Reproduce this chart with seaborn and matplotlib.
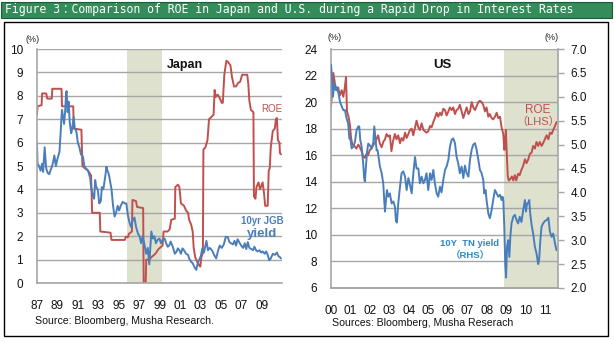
import matplotlib
matplotlib.use("Agg")
import matplotlib.pyplot as plt
import seaborn as sns
import pandas as pd
from matplotlib.patches import Rectangle

# ---------------- data ----------------
jp_roe_t = [1987.0, 1987.05, 1987.45, 1987.5, 1987.9, 1988.0, 1988.45, 1988.5, 1989.4, 1989.45,
            1990.55, 1990.6, 1991.35, 1991.45, 1991.7, 1992.0, 1992.3, 1992.4, 1993.15, 1993.2,
            1994.2, 1994.3, 1995.6, 1995.7, 1995.9, 1996.0, 1996.3, 1996.35, 1996.7, 1996.8,
            1997.4, 1997.45, 1997.65, 1997.7, 1998.0, 1998.2, 1998.6, 1998.9, 1999.3, 1999.4,
            1999.8, 2000.0, 2000.15, 2000.5, 2000.55, 2000.8, 2000.95, 2001.1, 2001.4, 2001.6,
            2001.8, 2001.9, 2002.1, 2002.25, 2002.35, 2002.5, 2002.7, 2002.9, 2003.0, 2003.1,
            2003.25, 2003.3, 2003.5, 2003.7, 2003.85, 2004.1, 2004.3, 2004.4, 2004.5, 2004.7,
            2004.9, 2005.1, 2005.2, 2005.35, 2005.55, 2005.7, 2005.95, 2006.1, 2006.3, 2006.5,
            2006.7, 2006.9, 2007.1, 2007.6, 2007.7, 2007.8, 2007.95, 2008.2, 2008.25, 2008.4,
            2008.5, 2008.7, 2008.85, 2009.1, 2009.25, 2009.35, 2009.6, 2009.7, 2009.8, 2009.9,
            2010.1, 2010.3, 2010.4, 2010.5, 2010.6, 2010.75, 2010.8, 2010.9]
jp_roe_v = [7.2, 7.55, 7.6, 8.1, 8.1, 7.88, 7.88, 8.3, 8.3, 7.55,
            7.55, 6.6, 6.55, 5.0, 4.9, 4.8, 4.6, 3.0, 3.0, 2.2,
            2.15, 1.84, 1.84, 1.98, 1.95, 2.1, 2.2, 3.55, 3.5, 3.25,
            3.2, 0.0, 0.0, 1.0, 1.0, 1.1, 1.25, 1.45, 1.6, 2.2,
            2.2, 2.3, 2.7, 2.75, 4.1, 4.2, 4.1, 3.4, 3.3, 3.1,
            3.0, 2.7, 2.5, 2.2, 1.5, 1.1, 0.9, 0.75, 0.7, 1.1,
            1.3, 5.7, 5.8, 6.1, 7.0, 7.1, 7.2, 8.25, 7.95, 8.05,
            7.9, 7.7, 7.7, 8.9, 9.5, 9.45, 9.3, 8.8, 8.4, 8.4,
            8.55, 8.6, 8.9, 8.9, 8.5, 7.8, 7.4, 7.3, 3.7, 3.6,
            4.1, 4.3, 4.0, 4.3, 3.8, 3.3, 3.3, 4.8, 4.9, 5.8,
            6.5, 6.6, 7.0, 7.05, 6.1, 6.0, 5.55, 5.5]

jp_jgb_t = [1987.0, 1987.05, 1987.2, 1987.35, 1987.5, 1987.6, 1987.75, 1987.9, 1988.05, 1988.2,
            1988.4, 1988.55, 1988.7, 1988.85, 1989.0, 1989.2, 1989.3, 1989.4, 1989.45, 1989.55,
            1989.65, 1989.75, 1989.85, 1989.9, 1990.0, 1990.1, 1990.2, 1990.35, 1990.45, 1990.6,
            1990.7, 1990.85, 1991.0, 1991.15, 1991.3, 1991.5, 1991.65, 1991.8, 1992.0, 1992.2,
            1992.3, 1992.5, 1992.6, 1992.7, 1992.8, 1992.95, 1993.1, 1993.25, 1993.35, 1993.5,
            1993.7, 1993.8, 1993.9, 1994.0, 1994.1, 1994.3, 1994.45, 1994.6, 1994.75, 1994.9,
            1995.05, 1995.2, 1995.4, 1995.6, 1995.75, 1995.9, 1996.05, 1996.2, 1996.4, 1996.55,
            1996.7, 1996.9, 1997.05, 1997.2, 1997.35, 1997.5, 1997.7, 1997.85, 1998.0, 1998.2,
            1998.35, 1998.5, 1998.65, 1998.8, 1999.0, 1999.15, 1999.3, 1999.5, 1999.65, 1999.8,
            1999.95, 2000.1, 2000.3, 2000.5, 2000.65, 2000.8, 2000.95, 2001.1, 2001.25, 2001.4,
            2001.6, 2001.8, 2001.9, 2002.1, 2002.25, 2002.4, 2002.6, 2002.75, 2002.9, 2003.05,
            2003.2, 2003.35, 2003.6, 2003.75, 2003.9, 2004.05, 2004.2, 2004.35, 2004.55, 2004.75,
            2004.9, 2005.1, 2005.3, 2005.5, 2005.7, 2005.85, 2006.0, 2006.2, 2006.35, 2006.5,
            2006.65, 2006.8, 2007.0, 2007.2, 2007.35, 2007.5, 2007.65, 2007.8, 2008.0, 2008.15,
            2008.3, 2008.45, 2008.6, 2008.8, 2008.95, 2009.1, 2009.3, 2009.45, 2009.6, 2009.75,
            2009.9, 2010.1, 2010.3, 2010.5, 2010.65, 2010.8, 2010.9]
jp_jgb_v = [6.0, 5.1, 5.0, 4.8, 5.1, 4.75, 5.8, 4.9, 4.7, 4.65,
            4.9, 5.1, 5.45, 5.0, 5.3, 5.6, 6.3, 7.1, 7.4, 7.1,
            6.8, 7.3, 8.1, 8.2, 7.3, 7.75, 6.9, 6.4, 6.6, 7.1,
            6.6, 6.5, 6.0, 5.8, 5.5, 5.4, 4.97, 4.9, 4.8, 4.5,
            4.1, 3.7, 3.6, 4.4, 4.1, 4.0, 3.4, 3.5, 4.1, 4.0,
            4.6, 4.97, 4.8, 4.7, 4.5, 4.0, 3.3, 2.84, 3.0, 3.3,
            3.1, 3.3, 3.47, 3.4, 3.4, 2.9, 2.6, 2.4, 2.7, 2.8,
            2.4, 2.1, 2.0, 1.7, 2.0, 1.7, 1.25, 1.5, 0.8, 2.2,
            1.9, 2.0, 1.7, 1.84, 1.9, 1.7, 1.84, 1.9, 1.7, 1.55,
            1.6, 1.77, 1.55, 1.25, 1.33, 1.48, 1.4, 1.25, 1.48, 1.4,
            1.25, 1.2, 1.05, 0.9, 0.85, 0.7, 0.56, 0.85, 1.0, 1.15,
            1.48, 1.3, 1.8, 1.4, 1.5, 1.45, 1.35, 1.2, 1.05, 1.4,
            1.6, 1.5, 1.65, 1.98, 1.95, 1.75, 1.7, 1.65, 1.8, 1.6,
            1.87, 1.75, 1.6, 1.5, 1.7, 1.45, 1.75, 1.5, 1.45, 1.4,
            1.55, 1.4, 1.35, 1.4, 1.3, 1.35, 1.25, 1.35, 1.2, 0.97,
            1.05, 1.25, 1.2, 1.3, 1.15, 1.1, 1.05]

us_roe_t = [2000.0, 2000.05, 2000.12, 2000.2, 2000.28, 2000.37, 2000.45, 2000.55, 2000.63, 2000.7,
            2000.77, 2000.82, 2000.9, 2000.97, 2001.03, 2001.1, 2001.2, 2001.3, 2001.4, 2001.48,
            2001.57, 2001.65, 2001.74, 2001.82, 2001.9, 2001.99, 2002.08, 2002.17, 2002.25, 2002.33,
            2002.42, 2002.5, 2002.6, 2002.68, 2002.77, 2002.85, 2002.94, 2003.02, 2003.1, 2003.19,
            2003.28, 2003.36, 2003.45, 2003.54, 2003.62, 2003.71, 2003.8, 2003.88, 2003.97, 2004.05,
            2004.14, 2004.22, 2004.31, 2004.39, 2004.48, 2004.56, 2004.65, 2004.74, 2004.82, 2004.9,
            2004.99, 2005.08, 2005.16, 2005.25, 2005.33, 2005.42, 2005.5, 2005.59, 2005.67, 2005.76,
            2005.85, 2005.93, 2006.02, 2006.1, 2006.19, 2006.27, 2006.36, 2006.44, 2006.53, 2006.61,
            2006.7, 2006.79, 2006.87, 2006.96, 2007.05, 2007.13, 2007.22, 2007.3, 2007.39, 2007.47,
            2007.56, 2007.64, 2007.73, 2007.81, 2007.9, 2007.98, 2008.07, 2008.15, 2008.24, 2008.32,
            2008.41, 2008.5, 2008.58, 2008.67, 2008.75, 2008.84, 2008.89, 2008.93, 2008.97, 2009.02,
            2009.07, 2009.12, 2009.2, 2009.28, 2009.35, 2009.43, 2009.5, 2009.6, 2009.68, 2009.77,
            2009.86, 2009.95, 2010.03, 2010.12, 2010.2, 2010.29, 2010.37, 2010.46, 2010.54, 2010.63,
            2010.71, 2010.8, 2010.88, 2010.97, 2011.06, 2011.15, 2011.23, 2011.32, 2011.4, 2011.49,
            2011.57]
us_roe_v = [19.7, 20.6, 22.2, 21.4, 20.9, 21.1, 20.5, 20.9, 20.4, 21.0,
            21.9, 19.3, 18.9, 18.3, 17.3, 16.8, 16.7, 16.5, 16.8, 16.6,
            16.3, 15.9, 15.8, 16.1, 16.0, 16.4, 16.5, 16.8, 16.9, 17.2,
            17.5, 16.9, 16.6, 17.0, 17.2, 17.6, 17.4, 17.5, 16.3, 17.1,
            17.6, 17.2, 17.5, 16.9, 17.3, 17.1, 17.7, 17.3, 17.6, 17.9,
            18.0, 17.5, 18.1, 18.6, 18.1, 17.9, 18.4, 17.9, 17.8, 17.7,
            17.8, 18.2, 18.1, 18.5, 18.8, 19.2, 18.9, 19.2, 19.0, 19.5,
            19.4, 19.0, 19.3, 19.6, 19.4, 19.6, 19.1, 19.4, 19.5, 19.8,
            19.3, 18.8, 19.2, 19.6, 19.1, 19.3, 20.0, 19.6, 19.4, 19.7,
            20.0, 20.1, 20.0, 19.8, 19.3, 19.6, 18.9, 19.1, 18.8, 18.7,
            18.9, 19.2, 18.8, 18.9, 18.1, 17.6, 16.4, 16.9, 17.9, 16.0,
            14.4, 14.1, 14.2, 14.4, 14.1, 14.5, 14.1, 14.6, 14.5, 14.9,
            15.2, 15.7, 15.4, 15.7, 16.1, 16.2, 16.7, 16.5, 17.0, 16.7,
            17.0, 16.7, 16.9, 17.2, 17.5, 17.2, 17.7, 17.6, 17.9, 18.2,
            18.5]

us_tn_t = [2000.0, 2000.05, 2000.1, 2000.17, 2000.25, 2000.32, 2000.4, 2000.46, 2000.55, 2000.63,
           2000.72, 2000.77, 2000.82, 2000.88, 2000.94, 2001.0, 2001.06, 2001.15, 2001.23, 2001.31,
           2001.4, 2001.45, 2001.5, 2001.57, 2001.65, 2001.7, 2001.74, 2001.79, 2001.85, 2001.91,
           2002.0, 2002.08, 2002.17, 2002.22, 2002.29, 2002.34, 2002.39, 2002.42, 2002.51, 2002.6,
           2002.68, 2002.73, 2002.77, 2002.82, 2002.87, 2002.94, 2003.02, 2003.11, 2003.2, 2003.28,
           2003.33, 2003.38, 2003.45, 2003.54, 2003.62, 2003.71, 2003.8, 2003.88, 2003.97, 2004.05,
           2004.14, 2004.22, 2004.31, 2004.39, 2004.48, 2004.56, 2004.65, 2004.74, 2004.82, 2004.9,
           2004.99, 2005.08, 2005.16, 2005.25, 2005.33, 2005.42, 2005.5, 2005.59, 2005.67, 2005.76,
           2005.85, 2005.93, 2006.02, 2006.1, 2006.19, 2006.27, 2006.36, 2006.44, 2006.53, 2006.61,
           2006.7, 2006.79, 2006.87, 2006.96, 2007.05, 2007.13, 2007.22, 2007.3, 2007.39, 2007.47,
           2007.56, 2007.64, 2007.73, 2007.81, 2007.86, 2007.93, 2007.98, 2008.07, 2008.15, 2008.24,
           2008.32, 2008.41, 2008.5, 2008.58, 2008.67, 2008.75, 2008.8, 2008.84, 2008.89, 2008.94,
           2008.98, 2009.03, 2009.09, 2009.15, 2009.2, 2009.26, 2009.35, 2009.43, 2009.52, 2009.6,
           2009.68, 2009.77, 2009.86, 2009.95, 2010.0, 2010.06, 2010.12, 2010.17, 2010.22, 2010.29,
           2010.37, 2010.46, 2010.54, 2010.63, 2010.68, 2010.74, 2010.8, 2010.88, 2010.97, 2011.06,
           2011.15, 2011.23, 2011.32, 2011.4, 2011.49, 2011.57]
us_tn_v = [6.67, 6.42, 6.0, 6.28, 6.14, 6.2, 6.04, 5.9, 5.8, 5.72,
           5.72, 5.6, 5.52, 5.45, 5.13, 5.1, 4.92, 4.96, 5.06, 5.3,
           5.38, 5.38, 5.1, 4.96, 4.61, 4.3, 4.23, 4.53, 4.85, 5.02,
           4.98, 4.92, 5.04, 5.38, 5.08, 4.88, 4.88, 4.8, 4.54, 4.4,
           4.19, 3.84, 3.6, 3.84, 4.05, 3.91, 3.98, 3.77, 3.81, 3.7,
           3.4, 3.37, 3.77, 4.12, 4.4, 4.44, 4.33, 4.05, 4.3, 4.16,
           3.98, 4.38, 4.74, 4.5, 4.5, 4.19, 4.33, 4.19, 4.26, 4.4,
           4.05, 4.4, 4.26, 4.47, 4.19, 3.98, 3.91, 4.12, 4.0, 4.26,
           4.47, 4.54, 4.68, 4.95, 5.1, 5.13, 5.03, 4.75, 4.6, 4.4,
           4.54, 4.3, 4.56, 4.4, 4.33, 4.68, 4.9, 5.0, 5.03, 4.89,
           4.68, 4.47, 4.4, 4.26, 3.98, 4.05, 3.84, 3.56, 3.46, 3.63,
           3.84, 4.05, 3.98, 3.91, 3.95, 3.84, 3.91, 3.84, 3.28, 2.5,
           2.22, 2.86, 3.0, 2.65, 3.07, 3.35, 3.49, 3.53, 3.42, 3.35,
           3.49, 3.38, 3.63, 3.84, 3.6, 3.77, 3.77, 3.84, 3.56, 3.32,
           3.14, 2.86, 2.73, 2.5, 2.6, 3.0, 3.28, 3.35, 3.4, 3.42,
           3.47, 3.18, 3.07, 3.14, 2.93, 2.79]

jp_tick_labels = ["87", "89", "91", "93", "95", "97", "99", "01", "03", "05", "07", "09"]
us_tick_labels = ["00", "01", "02", "03", "04", "05", "06", "07", "08", "09", "10", "11"]

# ---------------- style ----------------
sns.set_style("white")
plt.rcParams["font.family"] = ["Liberation Sans", "Noto Sans CJK JP", "DejaVu Sans"]

RED = "#C0504D"
BLUE = "#4A7EBB"
SHADE = "#DDE1CE"
GRID = "#A6A6A6"
AXC = "#A6A6A6"

fig = plt.figure(figsize=(6.14, 3.41), dpi=100)
W, H = 614.0, 341.0

def fx(x):
    return x / W

def fy(y):
    return 1 - y / H

# frame and title bar
fig.add_artist(Rectangle((fx(1), fy(18)), fx(611), 16 / H, transform=fig.transFigure,
                         facecolor="#338C5A", edgecolor="#1E5A38", lw=0.8))
fig.add_artist(Rectangle((fx(4), fy(336)), fx(604), 314 / H, transform=fig.transFigure,
                         facecolor="none", edgecolor="black", lw=1.0))
fig.text(fx(5), fy(10), "Figure 3：Comparison of ROE in Japan and U.S. during a Rapid Drop in Interest Rates",
         color="white", fontsize=8.3, va="center", ha="left",
         family=["DejaVu Sans Mono", "Noto Sans CJK JP"])

# ---------------- Japan ----------------
axj = fig.add_axes([fx(37), fy(283), fx(282 - 37), (283 - 49) / H])
axj.axvspan(1995.8, 1999.25, color=SHADE, zorder=0.1, lw=0)
df_jr = pd.DataFrame({"t": jp_roe_t, "v": jp_roe_v})
df_jb = pd.DataFrame({"t": jp_jgb_t, "v": jp_jgb_v})
sns.lineplot(data=df_jr, x="t", y="v", ax=axj, color=RED, lw=1.4, estimator=None, sort=False)
sns.lineplot(data=df_jb, x="t", y="v", ax=axj, color=BLUE, lw=1.4, estimator=None, sort=False)
axj.set_xlim(1987, 2011)
axj.set_ylim(0, 10)
axj.set_yticks(range(0, 11))
axj.set_xticks(range(1987, 2011, 2))
axj.set_xticklabels(jp_tick_labels)
axj.set_xticks(range(1987, 2012), minor=True)
axj.set_axisbelow(True)
axj.grid(axis="y", color=GRID, lw=1.0)
axj.grid(axis="x", visible=False)

# ---------------- US ----------------
axu = fig.add_axes([fx(331), fy(288), fx(557.7 - 331), (288 - 49) / H])
axu.axvspan(2008.87, 2011.7, color=SHADE, zorder=0.1, lw=0)
df_ur = pd.DataFrame({"t": us_roe_t, "v": us_roe_v})
sns.lineplot(data=df_ur, x="t", y="v", ax=axu, color=RED, lw=1.4, estimator=None, sort=False)
axu.set_xlim(2000, 2011.63)
axu.set_ylim(6, 24)
axu.set_yticks(range(6, 25, 2))
axu.set_xticks(range(2000, 2012))
axu.set_xticklabels(us_tick_labels)
axu.set_axisbelow(True)
axu.grid(axis="y", color=GRID, lw=1.0)
axu.grid(axis="x", visible=False)

axr = axu.twinx()
df_ut = pd.DataFrame({"t": us_tn_t, "v": us_tn_v})
sns.lineplot(data=df_ut, x="t", y="v", ax=axr, color=BLUE, lw=1.4, estimator=None, sort=False)
axr.set_ylim(2.0, 7.0)
axr.set_yticks([2.0, 2.5, 3.0, 3.5, 4.0, 4.5, 5.0, 5.5, 6.0, 6.5, 7.0])
axr.set_yticklabels(["%.1f" % v for v in axr.get_yticks()])
axr.grid(False)

for ax in (axj, axu, axr):
    ax.set_xlabel("")
    ax.set_ylabel("")
    ax.spines["top"].set_visible(False)
    for s in ("left", "bottom", "right"):
        ax.spines[s].set_color(AXC)
        ax.spines[s].set_linewidth(1.2)

axj.spines["right"].set_visible(False)
axu.spines["right"].set_visible(False)
axr.spines["left"].set_visible(False)

for ax in (axj, axu):
    ax.tick_params(axis="x", which="both", direction="out", length=3, width=1, color=AXC,
                   labelsize=8.5, pad=9, labelcolor="#111111")
    ax.tick_params(axis="y", direction="out", length=0, labelsize=8.5, pad=10, labelcolor="#111111")
axr.tick_params(axis="y", direction="out", length=4, width=1, color=AXC, labelsize=8.5, pad=5,
                labelcolor="#111111")

# annotations
fig.text(fx(33), fy(40), "(%)", fontsize=6.5, ha="center", va="center", color="#222222")
fig.text(fx(335), fy(38), "(%)", fontsize=6.5, ha="center", va="center", color="#222222")
fig.text(fx(552), fy(38), "(%)", fontsize=6.5, ha="center", va="center", color="#222222")

fig.text(fx(185), fy(65), "Japan", fontsize=9, fontweight="bold", ha="center", va="center", color="#111111")
fig.text(fx(442), fy(65), "US", fontsize=9.5, fontweight="bold", ha="center", va="center", color="#111111")

fig.text(fx(272), fy(109), "ROE", fontsize=7, ha="center", va="center", color=RED)
fig.text(fx(262), fy(221), "10yr JGB", fontsize=7, fontweight="bold", ha="center", va="center", color=BLUE)
fig.text(fx(262), fy(234), "yield", fontsize=9.5, fontweight="bold", ha="center", va="center", color=BLUE)

fig.text(fx(538), fy(110), "ROE", fontsize=8.5, ha="center", va="center", color=RED)
fig.text(fx(538), fy(122), "（LHS）", fontsize=8, ha="center", va="center", color=RED)
fig.text(fx(470), fy(243), "10Y  TN yield", fontsize=6.8, fontweight="bold", ha="center", va="center",
         color="#2E86C8")
fig.text(fx(470), fy(256), "（RHS）", fontsize=6.8, fontweight="bold", ha="center", va="center",
         color="#2E86C8")

fig.text(fx(35), fy(321), "Source: Bloomberg, Musha Research.", fontsize=7.6, ha="left", va="center",
         color="#111111")
fig.text(fx(332), fy(323), "Sources: Bloomberg, Musha Reserach", fontsize=7.6, ha="left", va="center",
         color="#111111")

fig.savefig("out.png", dpi=100)
